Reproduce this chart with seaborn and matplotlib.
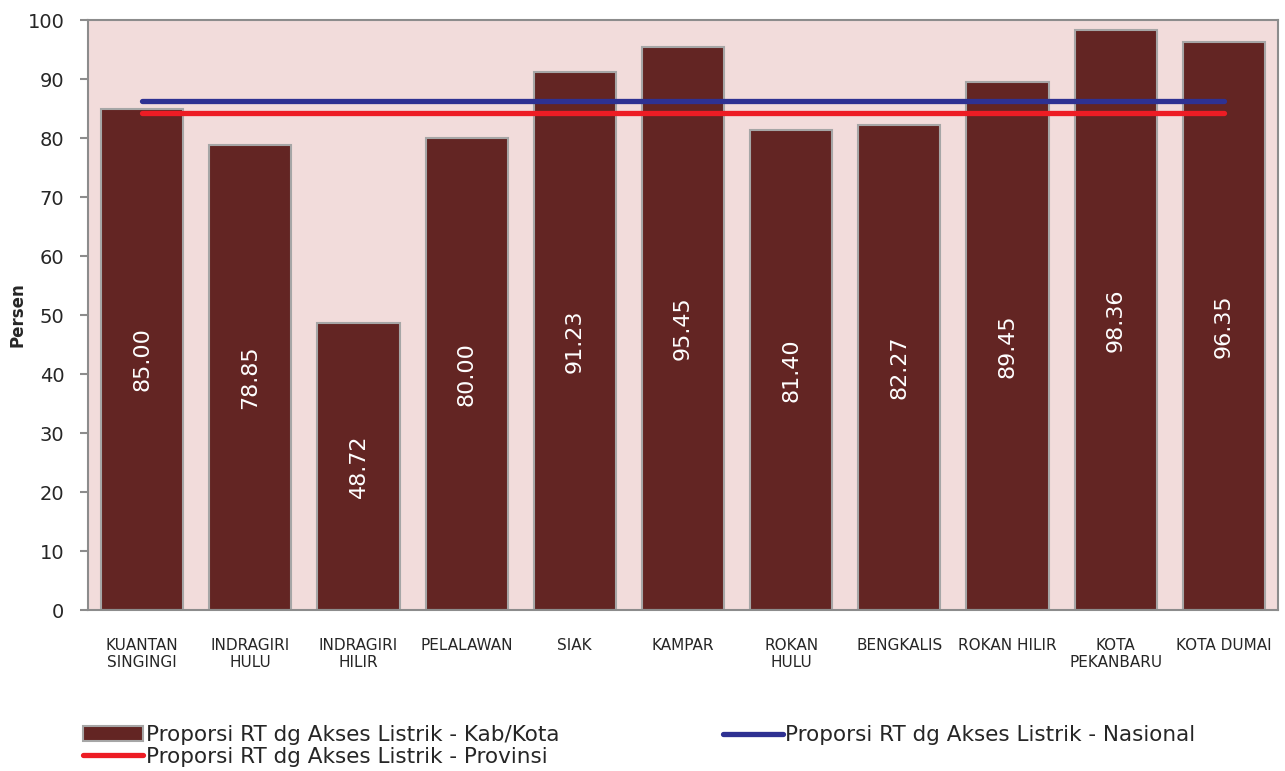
import matplotlib
matplotlib.use("Agg")
import matplotlib.pyplot as plt
import seaborn as sns
import pandas as pd
import numpy as np
from matplotlib.lines import Line2D
from matplotlib.patches import Patch

categories = ["KUANTAN\nSINGINGI", "INDRAGIRI\nHULU", "INDRAGIRI\nHILIR", "PELALAWAN",
              "SIAK", "KAMPAR", "ROKAN\nHULU", "BENGKALIS", "ROKAN HILIR",
              "KOTA\nPEKANBARU", "KOTA DUMAI"]
kab_kota = [85.00, 78.85, 48.72, 80.00, 91.23, 95.45, 81.40, 82.27, 89.45, 98.36, 96.35]
nasional = 86.3
provinsi = 84.2
yticks = [0, 10, 20, 30, 40, 50, 60, 70, 80, 90, 100]

sns.set_theme(style="white")
plt.rcParams['font.family'] = ['DejaVu Sans']

df = pd.DataFrame({"cat": categories, "val": kab_kota})

fig = plt.figure(figsize=(12.85, 7.71), dpi=100)
ax = fig.add_axes([0.0685, 0.2088, 0.926, 0.7652])
ax.set_facecolor("#F2DCDB")

sns.barplot(data=df, x="cat", y="val", ax=ax, color="#632523", saturation=1,
            width=0.76, edgecolor="#A6A6A6", linewidth=1.5, zorder=2)

n = len(categories)
ax.plot([0, n - 1], [nasional, nasional], color="#2E3192", lw=3.8,
        solid_capstyle="round", zorder=3)
ax.plot([0, n - 1], [provinsi, provinsi], color="#ED1C24", lw=3.8,
        solid_capstyle="round", zorder=3)

for i, v in enumerate(kab_kota):
    ax.text(i, v / 2, f"{v:.2f}", rotation=90, ha="center", va="center",
            color="white", fontsize=16, zorder=4)

ax.set_xlim(-0.5, n - 0.5)
ax.set_ylim(0, 100)
ax.set_yticks(yticks)
ax.set_yticklabels([str(t) for t in yticks], fontsize=14)
ax.set_xticks(range(n))
ax.set_xticklabels(categories, fontsize=11, linespacing=1.2)
ax.set_xticks(np.arange(-0.5, n, 1.0), minor=True)
ax.tick_params(axis="x", which="major", length=0, pad=20)
ax.tick_params(axis="x", which="minor", length=6, width=1.5, color="#8C8C8C", direction="out")
ax.tick_params(axis="y", which="major", length=6, width=1.5, color="#8C8C8C",
               direction="out", left=True, pad=11)
ax.set_xlabel("")
ax.set_ylabel("Persen", fontsize=12, fontweight="bold", labelpad=1)

for s in ax.spines.values():
    s.set_color("#8C8C8C")
    s.set_linewidth(1.5)
    s.set_visible(True)

handles = [
    Patch(facecolor="#632523", edgecolor="#A6A6A6", linewidth=1.5,
          label="Proporsi RT dg Akses Listrik - Kab/Kota"),
    Line2D([0], [0], color="#ED1C24", lw=3.8, label="Proporsi RT dg Akses Listrik - Provinsi"),
    Line2D([0], [0], color="#2E3192", lw=3.8, label="Proporsi RT dg Akses Listrik - Nasional"),
]
fig.legend(handles=handles, ncol=2, loc="lower left", bbox_to_anchor=(0.058, -0.006),
           frameon=False, fontsize=15.5, handlelength=2.8, handletextpad=0.1,
           columnspacing=7.6, labelspacing=0.08, borderaxespad=0)

fig.savefig("out.png", dpi=100)
